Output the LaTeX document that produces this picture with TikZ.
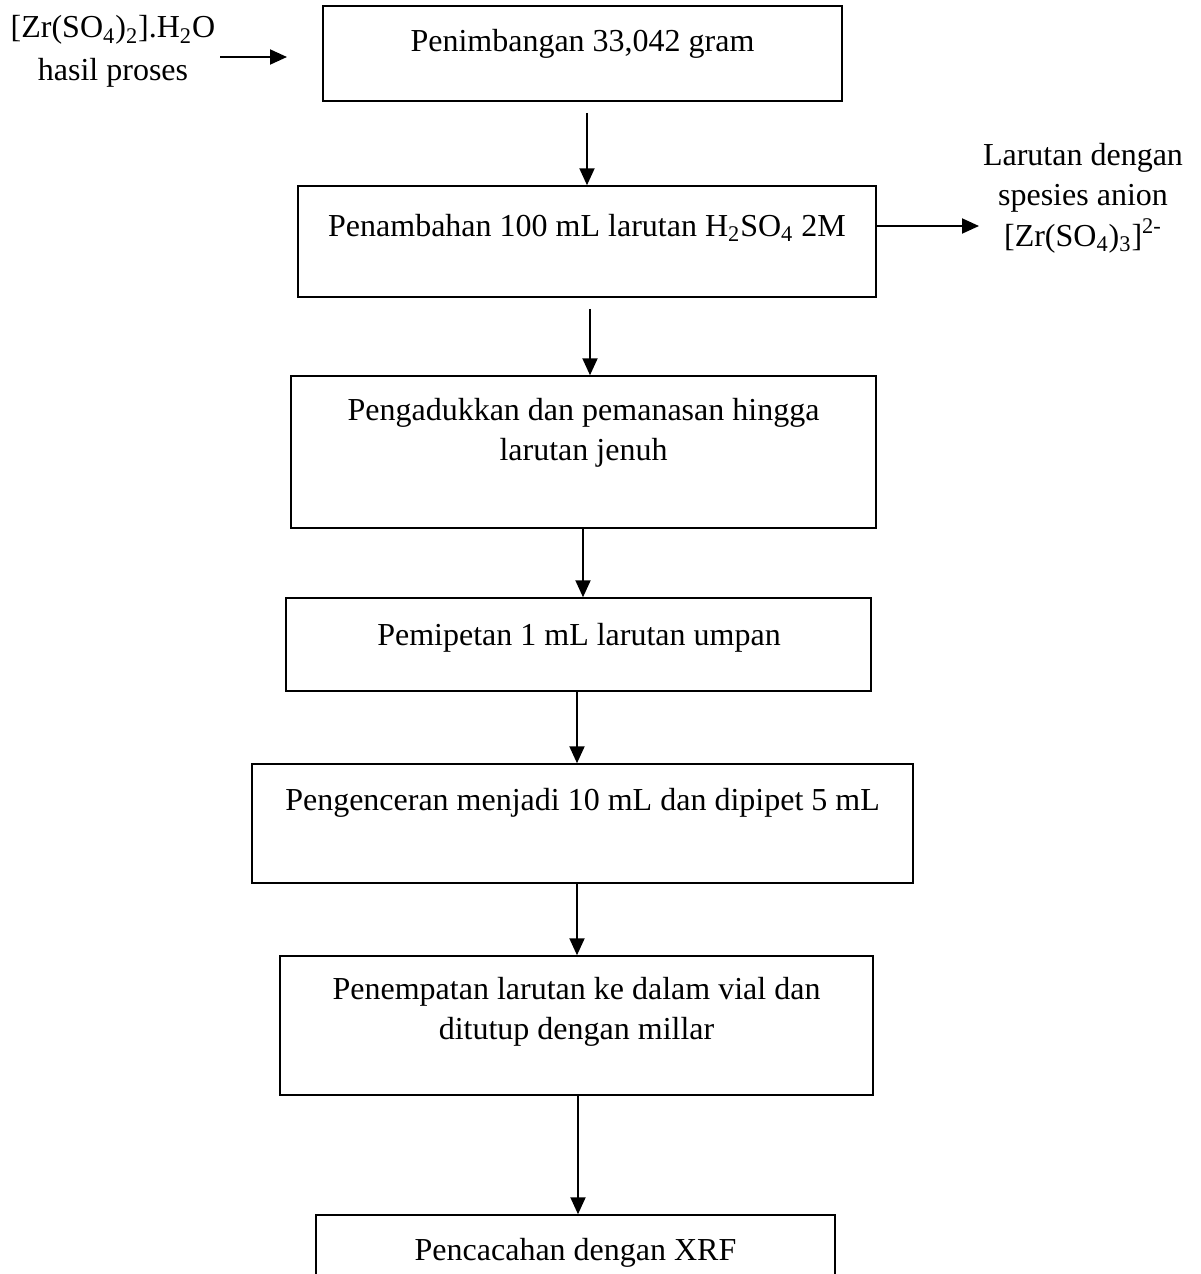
\documentclass[tikz,border=0pt]{standalone}
\usepackage{fontspec}
\setmainfont{Liberation Serif}
\usetikzlibrary{arrows.meta,fit}
\begin{document}
\begin{tikzpicture}[x=0.5pt,y=-0.5pt,
  box/.style={draw, line width=0.75pt, inner sep=0pt},
  lbl/.style={anchor=base, inner sep=0pt, font=\fontsize{16pt}{20pt}\selectfont},
  arr/.style={-{Triangle[length=8.5pt,width=7.5pt]}, line width=1pt}]
\useasboundingbox (0,0) rectangle (1200,1274);
\clip (0,0) rectangle (1200,1274);
% boxes
\node[box, fit={(323,6) (842,101)}] (b1) {};
\node[box, fit={(298,186) (876,297)}] (b2) {};
\node[box, fit={(291,376) (876,528)}] (b3) {};
\node[box, fit={(286,598) (871,691)}] (b4) {};
\node[box, fit={(252,764) (913,883)}] (b5) {};
\node[box, fit={(280,956) (873,1095)}] (b6) {};
\node[box, fit={(316,1215) (835,1310)}] (b7) {};
% box texts
\node[lbl] (t1) at (582.5,51) {Penimbangan 33,042 gram};
\node[lbl] (t2) at (587,236) {Penambahan 100 mL larutan H\textsubscript{2}SO\textsubscript{4} 2M};
\node[lbl] (t3a) at (583.5,420) {Pengadukkan dan pemanasan hingga};
\node[lbl] (t3b) at (583.5,460) {larutan jenuh};
\node[lbl] (t4) at (579,645) {Pemipetan 1 mL larutan umpan};
\node[lbl] (t5) at (582.5,810) {Pengenceran menjadi 10 mL dan dipipet 5 mL};
\node[lbl] (t6a) at (576.5,999) {Penempatan larutan ke dalam vial dan};
\node[lbl] (t6b) at (576.5,1039) {ditutup dengan millar};
\node[lbl] (t7) at (575.5,1260) {Pencacahan dengan XRF};
% side texts
\node[lbl] (l1) at (113,38) {[Zr(SO\textsubscript{4})\textsubscript{2}].H\textsubscript{2}O};
\node[lbl] (l2) at (113,80) {hasil proses};
\node[lbl] (r1) at (1083,165) {Larutan dengan};
\node[lbl] (r2) at (1083,205) {spesies anion};
\node[lbl] (r3) at (1083,246) {[Zr(SO\textsubscript{4})\textsubscript{3}]\textsuperscript{2-}};
% arrow positions
\coordinate (x12) at (587,0);
\coordinate (x23) at (590,0);
\coordinate (x34) at (583,0);
\coordinate (x45) at (577,0);
\coordinate (x56) at (577,0);
\coordinate (x67) at (578,0);
\draw[arr, shorten <=5.5pt] (b1.south -| x12) -- (b2.north -| x12);
\draw[arr, shorten <=5.5pt] (b2.south -| x23) -- (b3.north -| x23);
\draw[arr] (b3.south -| x34) -- (b4.north -| x34);
\draw[arr] (b4.south -| x45) -- (b5.north -| x45);
\draw[arr] (b5.south -| x56) -- (b6.north -| x56);
\draw[arr] (b6.south -| x67) -- (b7.north -| x67);
\coordinate (la) at (220,57);
\coordinate (lb) at (287,57);
\draw[arr] (la) -- (lb);
\coordinate (rb) at (979,226);
\draw[arr] (b2.east |- rb) -- (rb);
\end{tikzpicture}
\end{document}
